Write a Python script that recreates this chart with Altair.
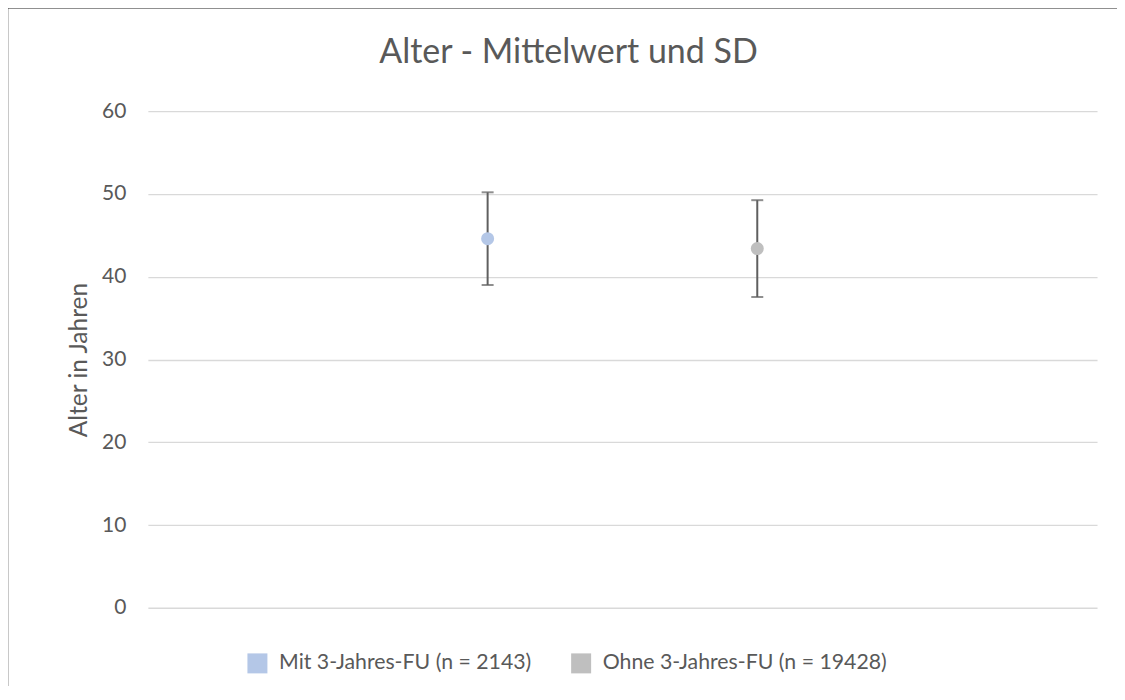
import altair as alt
import pandas as pd

# ---- data ----
groups = ["Mit 3-Jahres-FU (n = 2143)", "Ohne 3-Jahres-FU (n = 19428)"]
x_pos = [1, 2]
means = [44.6, 43.4]
sds = [5.6, 5.85]
colors = ["#B4C7E7", "#BFBFBF"]
y_ticks = [0, 10, 20, 30, 40, 50, 60]
chart_title = "Alter - Mittelwert und SD"

df = pd.DataFrame({"group": groups, "x": x_pos, "mean": means, "sd": sds})
df["lo"] = df["mean"] - df["sd"]
df["hi"] = df["mean"] + df["sd"]

FONT = "Lato"
TXT = "#595959"
W, H = 950, 497
PAD = {"left": 140, "top": 103, "right": 20, "bottom": 78}

x_enc = alt.X("x:Q", scale=alt.Scale(domain=[-0.26, 3.26]), axis=None)
y_scale = alt.Scale(domain=[0, 60], nice=False)

base = alt.Chart(df)

rule = base.mark_rule(color="#5F5F5F", strokeWidth=2).encode(
    x=x_enc,
    y=alt.Y(
        "lo:Q",
        scale=y_scale,
        axis=alt.Axis(
            values=y_ticks,
            title="Alter in Jahren",
            grid=True,
            gridColor="#D9D9D9",
            gridWidth=1.3,
            domain=False,
            ticks=False,
            labelPadding=22,
            labelFont=FONT,
            labelFontSize=21,
            labelColor=TXT,
            titleFont=FONT,
            titleFontSize=24.5,
            titleFontWeight="normal",
            titleColor=TXT,
            titlePadding=10,
        ),
    ),
    y2="hi:Q",
)

cap_hi = base.mark_tick(color="#5F5F5F", thickness=2, size=12, orient="horizontal").encode(
    x=x_enc, y=alt.Y("hi:Q", scale=y_scale)
)
cap_lo = base.mark_tick(color="#5F5F5F", thickness=2, size=12, orient="horizontal").encode(
    x=x_enc, y=alt.Y("lo:Q", scale=y_scale)
)

pts = base.mark_point(filled=True, opacity=1, size=170, shape="circle").encode(
    x=x_enc,
    y=alt.Y("mean:Q", scale=y_scale),
    color=alt.Color(
        "group:N",
        scale=alt.Scale(domain=groups, range=colors),
        legend=alt.Legend(
            title=None,
            orient="none",
            legendX=99,
            legendY=542,
            direction="horizontal",
            symbolType="square",
            symbolSize=400,
            symbolStrokeWidth=0,
            symbolOpacity=1,
            labelFont=FONT,
            labelFontSize=21.3,
            labelColor=TXT,
            labelOffset=11,
            labelLimit=0,
            columnPadding=39,
            padding=0,
        ),
    ),
)

one = pd.DataFrame({"k": [0]})
frame = alt.Chart(one).mark_rect(fillOpacity=0, stroke="#222222", strokeWidth=1.5).encode(
    x=alt.value(-PAD["left"] - 0.5),
    x2=alt.value(W + PAD["right"] + 10),
    y=alt.value(-PAD["top"] - 0.5),
    y2=alt.value(H + PAD["bottom"] + 10),
)

title = alt.Chart(one).mark_text(
    text=chart_title,
    font=FONT,
    fontSize=34,
    color=TXT,
    align="center",
    baseline="alphabetic",
).encode(x=alt.value(421), y=alt.value(-48))

chart = (
    alt.layer(rule, cap_hi, cap_lo, pts, frame, title)
    .properties(
        width=W,
        height=H,
        padding=PAD,
        autosize=alt.AutoSizeParams(type="none"),
        background="white",
    )
    .configure_view(strokeWidth=0, stroke="transparent")
)

chart.save("out.html", embed_options={"renderer": "svg", "actions": False})
